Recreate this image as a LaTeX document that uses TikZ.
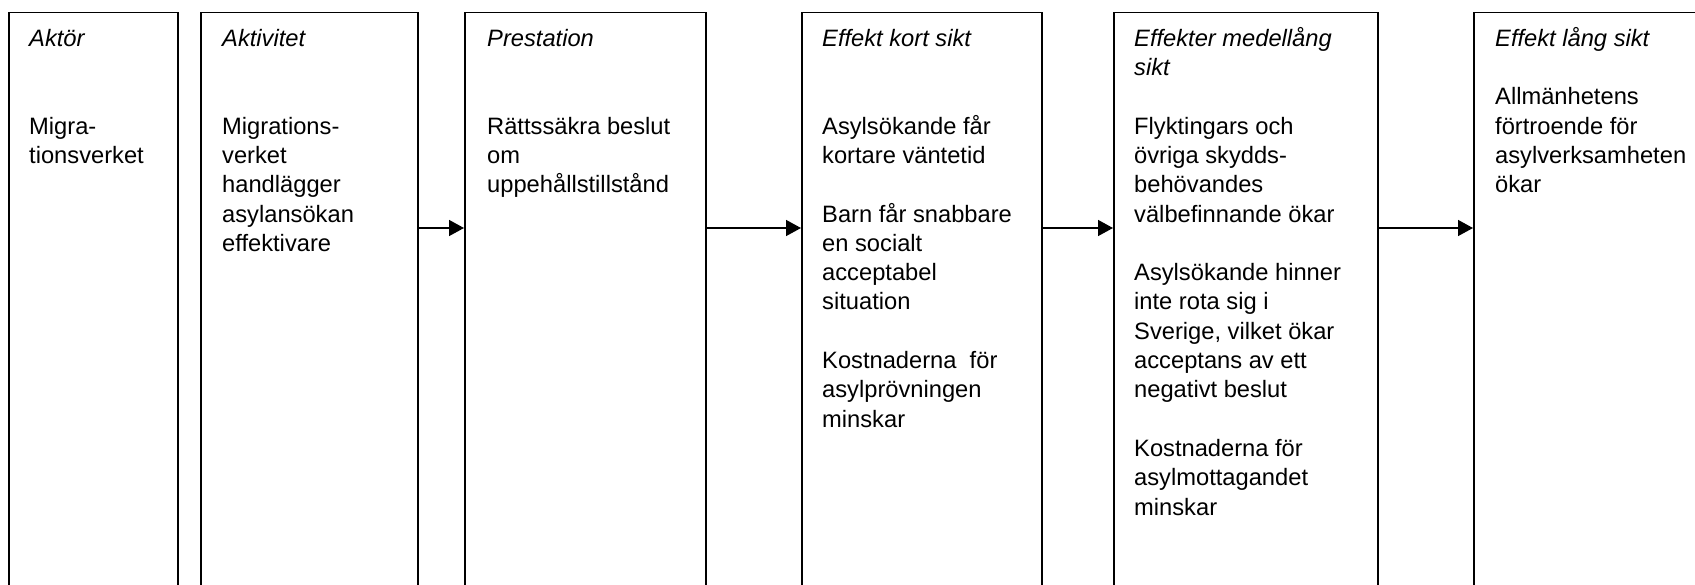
\documentclass[tikz,border=0pt]{standalone}
\usepackage{fontspec}
\setmainfont{Liberation Sans}
\usetikzlibrary{arrows.meta}
\newcommand{\boxfont}{\fontsize{23.7}{29.3}\selectfont}
\tikzset{
  stage/.style={draw=black, line width=1.6pt, anchor=north west, inner sep=0pt, minimum height=700pt},
  txt/.style={anchor=north west, inner sep=0pt, align=left, font=\boxfont},
  arr/.style={line width=1.5pt, -{Triangle[length=15pt,width=16pt]}}
}
\begin{document}
\begin{tikzpicture}[x=1pt,y=-1pt]
\useasboundingbox (0,0) rectangle (1695,584);
\clip (0,0) rectangle (1695,584);
\fill[white] (0,0) rectangle (1695,584);
% boxes
\node[stage, minimum width=169pt] (b1) at (8,11.5) {};
\node[stage, minimum width=217pt] (b2) at (200,11.5) {};
\node[stage, minimum width=241pt] (b3) at (464,11.5) {};
\node[stage, minimum width=240pt] (b4) at (801,11.5) {};
\node[stage, minimum width=264pt] (b5) at (1113,11.5) {};
\node[stage, minimum width=300pt] (b6) at (1473,11.5) {};
% texts (first baseline at 46)
\node[txt] (t1) at (29,25.5) {\strut\textit{Aktör}\\[58.6pt]Migra-\\tionsverket};
\node[txt] (t2) at (222,25.5) {\strut\textit{Aktivitet}\\[58.6pt]Migrations-\\verket\\handlägger\\asylansökan\\effektivare};
\node[txt] (t3) at (487,25.5) {\strut\textit{Prestation}\\[58.6pt]Rättssäkra beslut\\om\\uppehållstillstånd};
\node[txt] (t4) at (822,25.5) {\strut\textit{Effekt kort sikt}\\[58.6pt]Asylsökande får\\kortare väntetid\\[29.3pt]Barn får snabbare\\en socialt\\acceptabel\\situation\\[29.3pt]Kostnaderna\ \ för\\asylprövningen\\minskar};
\node[txt] (t5) at (1134,25.5) {\strut\textit{Effekter medellång}\\\textit{sikt}\\[29.3pt]Flyktingars och\\övriga skydds-\\behövandes\\välbefinnande ökar\\[29.3pt]Asylsökande hinner\\inte rota sig i\\Sverige, vilket ökar\\acceptans av ett\\negativt beslut\\[29.3pt]Kostnaderna för\\asylmottagandet\\minskar};
\node[txt] (t6) at (1495,25.5) {\strut\textit{Effekt lång sikt}\\[29.3pt]Allmänhetens\\förtroende för\\asylverksamheten\\ökar};
% connectors
\coordinate (ay) at (0,228);
\draw[arr] (b2.east |- ay) -- (b3.west |- ay);
\draw[arr] (b3.east |- ay) -- (b4.west |- ay);
\draw[arr] (b4.east |- ay) -- (b5.west |- ay);
\draw[arr] (b5.east |- ay) -- (b6.west |- ay);
\end{tikzpicture}
\end{document}
